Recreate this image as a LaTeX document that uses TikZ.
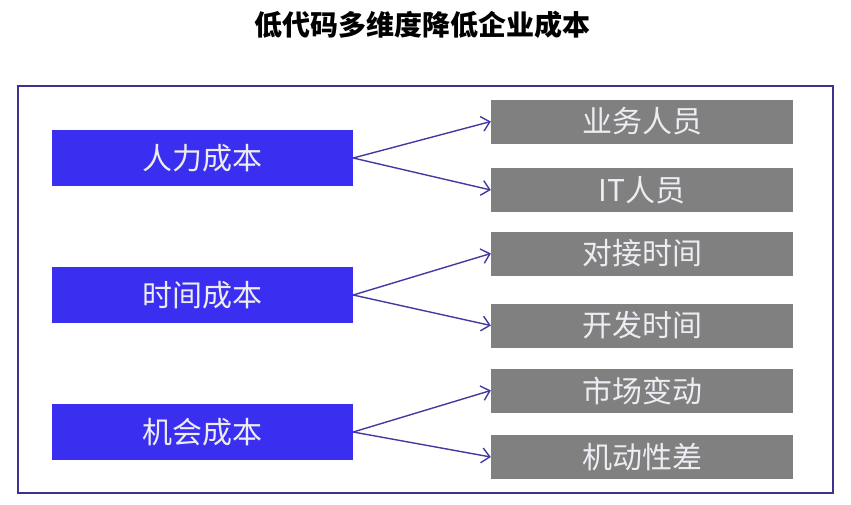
\documentclass[tikz,border=0pt]{standalone}
\usepackage{fontspec}
\setmainfont{Noto Sans CJK SC}
\usetikzlibrary{arrows.meta, positioning}

\definecolor{kostenblau}{RGB}{58,46,240}
\definecolor{detailgrau}{RGB}{128,128,128}
\definecolor{rahmenlila}{RGB}{64,50,140}
\definecolor{pfeillila}{RGB}{66,58,160}
\definecolor{schrift}{RGB}{236,236,242}

\begin{document}
\begin{tikzpicture}[x=1pt, y=-1pt,
    kosten/.style={fill=kostenblau, text=schrift, minimum width=301pt, minimum height=56pt,
                   inner sep=0pt, font=\fontsize{30}{32}\selectfont},
    detail/.style={fill=detailgrau, text=schrift, minimum width=302pt, minimum height=44pt,
                   inner sep=0pt, font=\fontsize{30}{32}\selectfont},
    zweig/.style={draw=pfeillila, line width=1.4pt, -{Straight Barb[length=8pt, width=15pt]}}]
    \useasboundingbox (0,0) rectangle (851,504);

    % Titel
    \node[font=\fontsize{28}{30}\selectfont\bfseries] (titel) at (422,25) {低代码多维度降低企业成本};

    % Rahmen
    \draw[rahmenlila, line width=2pt] (18,86) rectangle (833,493);

    % Kostenarten (blau)
    \node[kosten] (personal) at (202.5,158) {人力成本};
    \node[kosten] (zeit)     at (202.5,295) {时间成本};
    \node[kosten] (chance)   at (202.5,432) {机会成本};

    % Einzelposten (grau)
    \node[detail] (fach)   at (642,121.5) {业务人员};
    \node[detail] (it)     at (642,190)   {IT人员};
    \node[detail] (abstim) at (642,253.5) {对接时间};
    \node[detail] (entw)   at (642,325.5) {开发时间};
    \node[detail] (markt)  at (642,390.5) {市场变动};
    \node[detail] (flex)   at (642,457)   {机动性差};

    % Pfeile
    \draw[zweig] (personal.east) -- (fach.west);
    \draw[zweig] (personal.east) -- (it.west);
    \draw[zweig] (zeit.east) -- (abstim.west);
    \draw[zweig] (zeit.east) -- (entw.west);
    \draw[zweig] (chance.east) -- (markt.west);
    \draw[zweig] (chance.east) -- (flex.west);
\end{tikzpicture}
\end{document}
